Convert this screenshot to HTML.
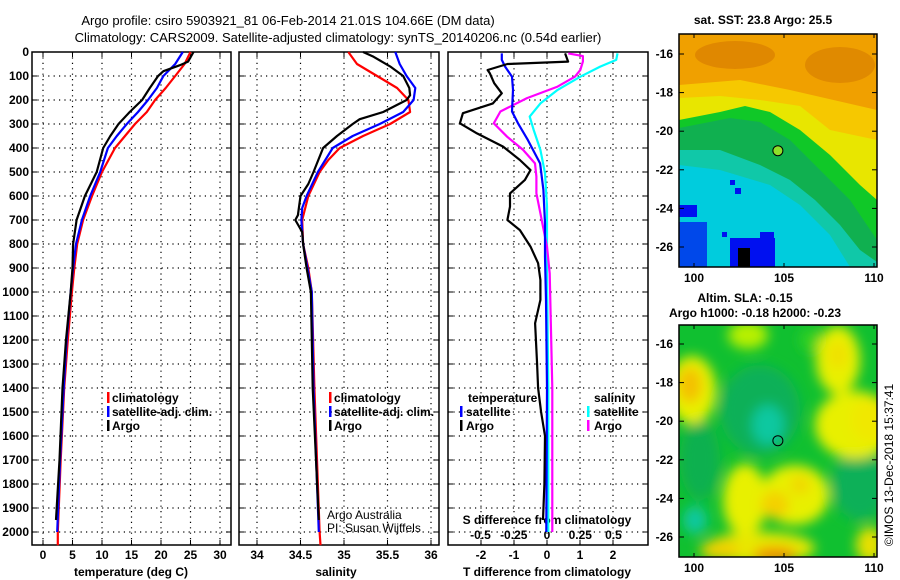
<!DOCTYPE html>
<html><head><meta charset="utf-8">
<style>
html,body{margin:0;padding:0;background:#fff;}
svg{display:block;font-family:"Liberation Sans",sans-serif;}
.b{font-weight:bold;font-size:12px;}
</style></head>
<body>
<svg id="chart" width="900" height="580" viewBox="0 0 900 580">
<defs>
<filter id="blur" x="-30%" y="-30%" width="160%" height="160%"><feGaussianBlur stdDeviation="6"/></filter>
<clipPath id="c1"><rect x="679" y="34" width="198" height="233"/></clipPath>
<clipPath id="c2"><rect x="679" y="325" width="198" height="232"/></clipPath>
</defs>
<text x="288" y="25" text-anchor="middle" style="font-size:13px;">Argo profile: csiro 5903921_81 06-Feb-2014 21.01S 104.66E (DM data)</text>
<text x="338" y="42" text-anchor="middle" style="font-size:13px;">Climatology: CARS2009. Satellite-adjusted climatology: synTS_20140206.nc (0.54d earlier)</text>
<g id="panels"></g>
<g id="maps"></g>
</svg>
<script>
// ---- data ----
const tClimDepth=[0,50,100,150,200,250,300,350,400,500,600,700,800,900,1000,1200,1400,1700,2000,2055];
const tClimVal=[25.0,24.0,22.4,20.8,19.0,17.6,15.6,13.9,12.2,10.0,8.3,6.8,5.8,5.3,4.9,4.2,3.6,3.0,2.5,2.5];
const tSatDepth=[0,50,100,150,200,250,300,350,400,500,600,700,800,900,1000,1200,1400,1700,2000];
const tSatVal=[23.7,22.4,20.4,19.3,17.8,16.1,14.2,12.5,11.0,9.7,8.0,6.6,5.6,5.1,4.7,4.0,3.5,2.9,2.4];
const tArgoDepth=[0,40,55,80,100,150,200,250,300,350,400,500,600,700,800,900,1000,1200,1400,1700,1950];
const tArgoVal=[25.5,24.6,23.2,20.4,19.5,18.1,16.8,14.7,12.8,11.4,10.2,9.1,7.1,5.7,5.1,5.0,4.7,3.9,3.3,2.8,2.2];

const sClimDepth=[0,50,100,150,200,250,300,350,400,450,500,600,700,800,900,1000,1400,2000,2055];
const sClimVal=[35.05,35.15,35.38,35.61,35.74,35.76,35.53,35.22,34.95,34.82,34.72,34.59,34.52,34.53,34.59,34.63,34.66,34.72,34.73];
const sSatDepth=[0,50,100,150,200,250,300,350,400,500,600,650,700,800,900,1000,1400,2000];
const sSatVal=[35.59,35.64,35.72,35.82,35.80,35.68,35.41,35.10,34.87,34.70,34.57,34.52,34.51,34.53,34.58,34.63,34.65,34.71];
const sArgoDepth=[0,20,60,100,150,180,200,250,280,300,350,400,500,550,600,680,700,750,800,900,1000,1400,1950];
const sArgoVal=[35.22,35.34,35.53,35.68,35.75,35.76,35.72,35.45,35.18,35.10,34.92,34.76,34.65,34.59,34.50,34.47,34.44,34.52,34.53,34.57,34.62,34.64,34.71];

const dTArgoDepth=[6,40,50,75,89,130,172,214,255,297,339,394,450,492,533,589,644,700,742,811,880,950,1033,1130,1300,1400,1500,1600,1800,1950];
const dTArgoVal=[0.55,0.64,-1.2,-1.8,-1.73,-1.6,-1.37,-1.64,-2.55,-2.64,-2.12,-1.33,-0.82,-0.5,-0.67,-1.12,-1.12,-1.2,-0.82,-0.5,-0.27,-0.2,-0.2,-0.36,-0.3,-0.27,-0.18,-0.06,-0.08,-0.12];
const dTSatDepth=[6,33,61,103,158,248,297,367,464,575,714,853,1033,1400,2000];
const dTSatVal=[-1.37,-1.37,-1.27,-1.06,-1.03,-1.06,-0.88,-0.58,-0.21,-0.11,-0.06,-0.06,-0.03,0.0,-0.02];
const dSArgoDepth=[6,17,40,75,103,144,192,248,297,353,408,464,519,589,672,728,811,922,1400,2000];
const dSArgoVal=[0.16,0.27,0.27,0.25,0.21,0.08,-0.15,-0.35,-0.40,-0.30,-0.18,-0.09,-0.08,-0.08,-0.05,-0.03,0.0,0.02,0.04,0.04];
const dSSatDepth=[6,33,61,103,158,214,269,325,408,505,644,922,1400,2000];
const dSSatVal=[0.53,0.52,0.40,0.25,0.08,-0.05,-0.13,-0.10,-0.05,-0.015,0.0,0.0,0.01,0.01];

const depthTicks=[0,100,200,300,400,500,600,700,800,900,1000,1100,1200,1300,1400,1500,1600,1700,1800,1900,2000];
const tTicks=[0,5,10,15,20,25,30];
const sTicks=[34,34.5,35,35.5,36];
const sTickLabels=["34","34.5","35","35.5","36"];
const dTTicks=[-2,-1,0,1,2];
const dSTicks=[-0.5,-0.25,0,0.25,0.5];
const dSTickLabels=["-0.5","-0.25","0","0.25","0.5"];
const latTicks=[-16,-18,-20,-22,-24,-26];
const lonTicks=[100,105,110];
const argoLon=104.66, argoLat=-21.01;

// ---- scales ----
const NS="http://www.w3.org/2000/svg";
const yD=d=>52+0.24*d;
const xT=t=>43+5.9*t;
const xS=s=>257+87*(s-34);
const xDT=t=>547+33*t;
const xDS=s=>547+133*s;
const PT=52,PB=545;
function mk(tag,attrs,parent,txt){const e=document.createElementNS(NS,tag);for(const k in attrs)e.setAttribute(k,attrs[k]);if(txt!==undefined)e.textContent=txt;parent.appendChild(e);return e;}
const G=document.getElementById('panels');

function panel(x0,x1,name,ticks,xf){
  const g=mk('g',{},G);
  
  
  depthTicks.forEach(d=>{if(d>0)mk('line',{x1:x0,x2:x1,y1:yD(d),y2:yD(d),stroke:'#000','stroke-width':1.2,'stroke-dasharray':'1.2 4.2'},g);
    mk('line',{x1:x0,x2:x0+5,y1:yD(d),y2:yD(d),stroke:'#000'},g);mk('line',{x1:x1-5,x2:x1,y1:yD(d),y2:yD(d),stroke:'#000'},g);});
  ticks.forEach(t=>{const x=xf(t);mk('line',{x1:x,x2:x,y1:PT,y2:PB,stroke:'#000','stroke-width':1.2,'stroke-dasharray':'1.2 4.2'},g);
    mk('line',{x1:x,x2:x,y1:PT,y2:PT+5,stroke:'#000'},g);mk('line',{x1:x,x2:x,y1:PB-5,y2:PB,stroke:'#000'},g);});
  mk('rect',{x:x0,y:PT,width:x1-x0,height:PB-PT,fill:'none',stroke:'#000','stroke-width':1.5},g);
  return g;
}
function line(g,ds,vs,xf,col,name,w){
  const p=ds.map((d,i)=>xf(vs[i]).toFixed(1)+','+yD(d).toFixed(1)).join(' ');
  const e=mk('polyline',{points:p,fill:'none',stroke:col,'stroke-width':w||2.2,'stroke-linejoin':'round'},g);
  
  
}
function txt(g,x,y,s,anchor,name,extra){const e=mk('text',Object.assign({x:x,y:y,'text-anchor':anchor||'start',class:'b'},extra||{}),g,s);return e;}
function legMark(g,x,y,col){mk('rect',{x:x,y:y-10,width:2.5,height:11,fill:col},g);}

// panel 1
const g1=panel(32,231,'temperature-panel',tTicks,xT);
depthTicks.forEach(d=>txt(g1,29,yD(d)+4,String(d),'end','depth-tick-label'));
tTicks.forEach(t=>txt(g1,xT(t),559,String(t),'middle','temp-tick-label'));
txt(g1,131,576,'temperature (deg C)','middle','temperature-axis-title');
line(g1,tClimDepth,tClimVal,xT,'#f00','temp-climatology-line');
line(g1,tSatDepth,tSatVal,xT,'#00f','temp-satellite-line');
line(g1,tArgoDepth,tArgoVal,xT,'#000','temp-argo-line');
legMark(g1,107,402,'#f00');txt(g1,112,402,'climatology','start','legend-climatology');
legMark(g1,107,416,'#00f');txt(g1,112,416,'satellite-adj. clim.','start','legend-satellite');
legMark(g1,107,430,'#000');txt(g1,112,430,'Argo','start','legend-argo');

// panel 2
const g2=panel(239,439,'salinity-panel',sTicks,xS);
sTicks.forEach((t,i)=>txt(g2,xS(t),559,sTickLabels[i],'middle','salinity-tick-label'));
txt(g2,336,576,'salinity','middle','salinity-axis-title');
line(g2,sClimDepth,sClimVal,xS,'#f00','sal-climatology-line');
line(g2,sSatDepth,sSatVal,xS,'#00f','sal-satellite-line');
line(g2,sArgoDepth,sArgoVal,xS,'#000','sal-argo-line');
legMark(g2,329,402,'#f00');txt(g2,334,402,'climatology','start','legend-climatology');
legMark(g2,329,416,'#00f');txt(g2,334,416,'satellite-adj. clim.','start','legend-satellite');
legMark(g2,329,430,'#000');txt(g2,334,430,'Argo','start','legend-argo');
txt(g2,327,519,'Argo Australia','start','credit-argo-australia',{style:'font-weight:normal'});
txt(g2,327,532,'PI: Susan Wijffels','start','credit-pi',{style:'font-weight:normal'});

// panel 3
const g3=panel(448,648,'difference-panel',dTTicks,xDT);
dTTicks.forEach(t=>txt(g3,xDT(t),559,String(t),'middle','tdiff-tick-label'));
dSTicks.forEach((t,i)=>txt(g3,xDS(t),539,dSTickLabels[i],'middle','sdiff-tick-label'));
txt(g3,547,524,'S difference from climatology','middle','sdiff-axis-title');
txt(g3,547,576,'T difference from climatology','middle','tdiff-axis-title');
line(g3,dSSatDepth,dSSatVal,xDS,'#0ff','sdiff-satellite-line');
line(g3,dSArgoDepth,dSArgoVal,xDS,'#f0f','sdiff-argo-line');
line(g3,dTSatDepth,dTSatVal,xDT,'#00f','tdiff-satellite-line');
line(g3,dTArgoDepth,dTArgoVal,xDT,'#000','tdiff-argo-line');
txt(g3,468,402,'temperature','start','legend-temperature-heading');
legMark(g3,460,416,'#00f');txt(g3,466,416,'satellite','start','legend-t-satellite');
legMark(g3,460,430,'#000');txt(g3,466,430,'Argo','start','legend-t-argo');
txt(g3,594,402,'salinity','start','legend-salinity-heading');
legMark(g3,587,416,'#0ff');txt(g3,594,416,'satellite','start','legend-s-satellite');
legMark(g3,587,430,'#f0f');txt(g3,594,430,'Argo','start','legend-s-argo');

// maps
const M=document.getElementById('maps');
const xL=l=>694+18*(l-100);
function mapFrame(top,name,clip,fill){
  const g=mk('g',{},M);
  
  
  const yl=l=>top+(-16-l)*19.3;
  const bg=mk('g',{'clip-path':'url(#'+clip+')'},g);
  fill(bg);
  const bottom=clip==='c1'?267:557, y0=clip==='c1'?34:325;
  mk('rect',{x:679,y:y0,width:198,height:bottom-y0,fill:'none',stroke:'#000','stroke-width':1.5},g);
  latTicks.forEach(l=>{const y=yl(l);mk('line',{x1:679,x2:684,y1:y,y2:y,stroke:'#000'},g);mk('line',{x1:872,x2:877,y1:y,y2:y,stroke:'#000'},g);txt(g,673,y+4,String(l),'end','lat-tick-label');});
  lonTicks.forEach(l=>{const x=xL(l);mk('line',{x1:x,x2:x,y1:y0,y2:y0+4,stroke:'#000'},g);mk('line',{x1:x,x2:x,y1:bottom-4,y2:bottom,stroke:'#000'},g);txt(g,x,bottom+15,String(l),'middle','lon-tick-label');});
  const c=mk('circle',{cx:xL(argoLon),cy:yl(argoLat),r:5,fill:clip==='c1'?'#8fe02a':'none',stroke:'#000','stroke-width':1},g);
  
  
  return g;
}
const m1=mapFrame(54,'sst-map','c1',bg=>{
  mk('rect',{x:679,y:34,width:198,height:233,fill:'#f0a000'},bg);
  mk('polygon',{points:'679,85 740,80 790,90 877,110 877,140 679,140',fill:'#f6c800'},bg);
  mk('ellipse',{cx:735,cy:55,rx:40,ry:14,fill:'#e08800'},bg);
  mk('ellipse',{cx:840,cy:65,rx:35,ry:18,fill:'#e08a00'},bg);
  mk('polygon',{points:'679,98 720,96 760,100 800,106 830,130 877,140 877,200 679,200',fill:'#e8e600'},bg);
  mk('polygon',{points:'679,120 720,112 745,106 770,112 800,130 830,155 860,185 877,200 877,267 679,267',fill:'#10c828'},bg);
  mk('polygon',{points:'679,128 730,118 760,122 790,140 820,170 850,200 877,240 877,267 679,267',fill:'#10b050'},bg);
  mk('polygon',{points:'679,150 720,150 760,165 790,180 815,200 840,225 860,250 877,262 877,267 679,267',fill:'#10c8a8'},bg);
  mk('polygon',{points:'679,165 720,170 770,185 800,205 830,235 850,267 679,267',fill:'#00ccdd'},bg);
  mk('rect',{x:679,y:205,width:18,height:12,fill:'#0010f0'},bg);
  mk('rect',{x:679,y:222,width:28,height:45,fill:'#0010f0',opacity:0.7},bg);
  mk('rect',{x:730,y:238,width:45,height:29,fill:'#0010f0'},bg);
  mk('rect',{x:760,y:232,width:14,height:10,fill:'#0010f0'},bg);
  mk('rect',{x:738,y:248,width:12,height:19,fill:'#000'},bg);
  mk('rect',{x:722,y:232,width:5,height:5,fill:'#0010f0'},bg);
  mk('rect',{x:730,y:180,width:5,height:5,fill:'#0010f0'},bg);
  mk('rect',{x:735,y:188,width:6,height:6,fill:'#0010f0'},bg);
});
txt(M,763,24,'sat. SST: 23.8 Argo: 25.5','middle','sst-map-title');
const m2=mapFrame(344,'sla-map','c2',bg=>{
  mk('rect',{x:679,y:325,width:198,height:232,fill:'#10c030'},bg);
  const f=mk('g',{filter:'url(#blur)'},bg);
  [[760,410,40,45,'#10b058'],[860,485,28,35,'#10b058'],[700,460,20,40,'#10b050'],[768,425,16,20,'#10c8a0'],[695,520,12,14,'#10c8a0'],
   [692,390,24,34,'#e8f000'],[690,385,12,18,'#f4c000'],[838,360,22,34,'#e8f000'],[838,355,10,14,'#f0e000'],
   [855,425,40,34,'#e8f000'],[870,420,20,22,'#f0e800'],
   [745,500,22,36,'#e8f000'],[795,495,34,30,'#e8f000'],[775,505,14,14,'#f4d000'],[800,485,10,10,'#f0d800'],
   [760,548,55,16,'#e8e800'],[775,555,22,8,'#f09000'],[720,550,20,10,'#f0d000'],
   [870,545,14,18,'#e8e000'],[748,335,20,14,'#b8f000'],[810,340,10,12,'#30d020']].forEach(b=>mk('ellipse',{cx:b[0],cy:b[1],rx:b[2],ry:b[3],fill:b[4]},f));
});
txt(M,745,302,'Altim. SLA: -0.15','middle','sla-map-title');
txt(M,755,317,'Argo h1000: -0.18 h2000: -0.23','middle','sla-map-subtitle');
txt(M,893,465,'©IMOS 13-Dec-2018 15:37:41','middle','timestamp',{transform:'rotate(-90 893 465)',style:'font-weight:normal'});
</script>
</body></html>
